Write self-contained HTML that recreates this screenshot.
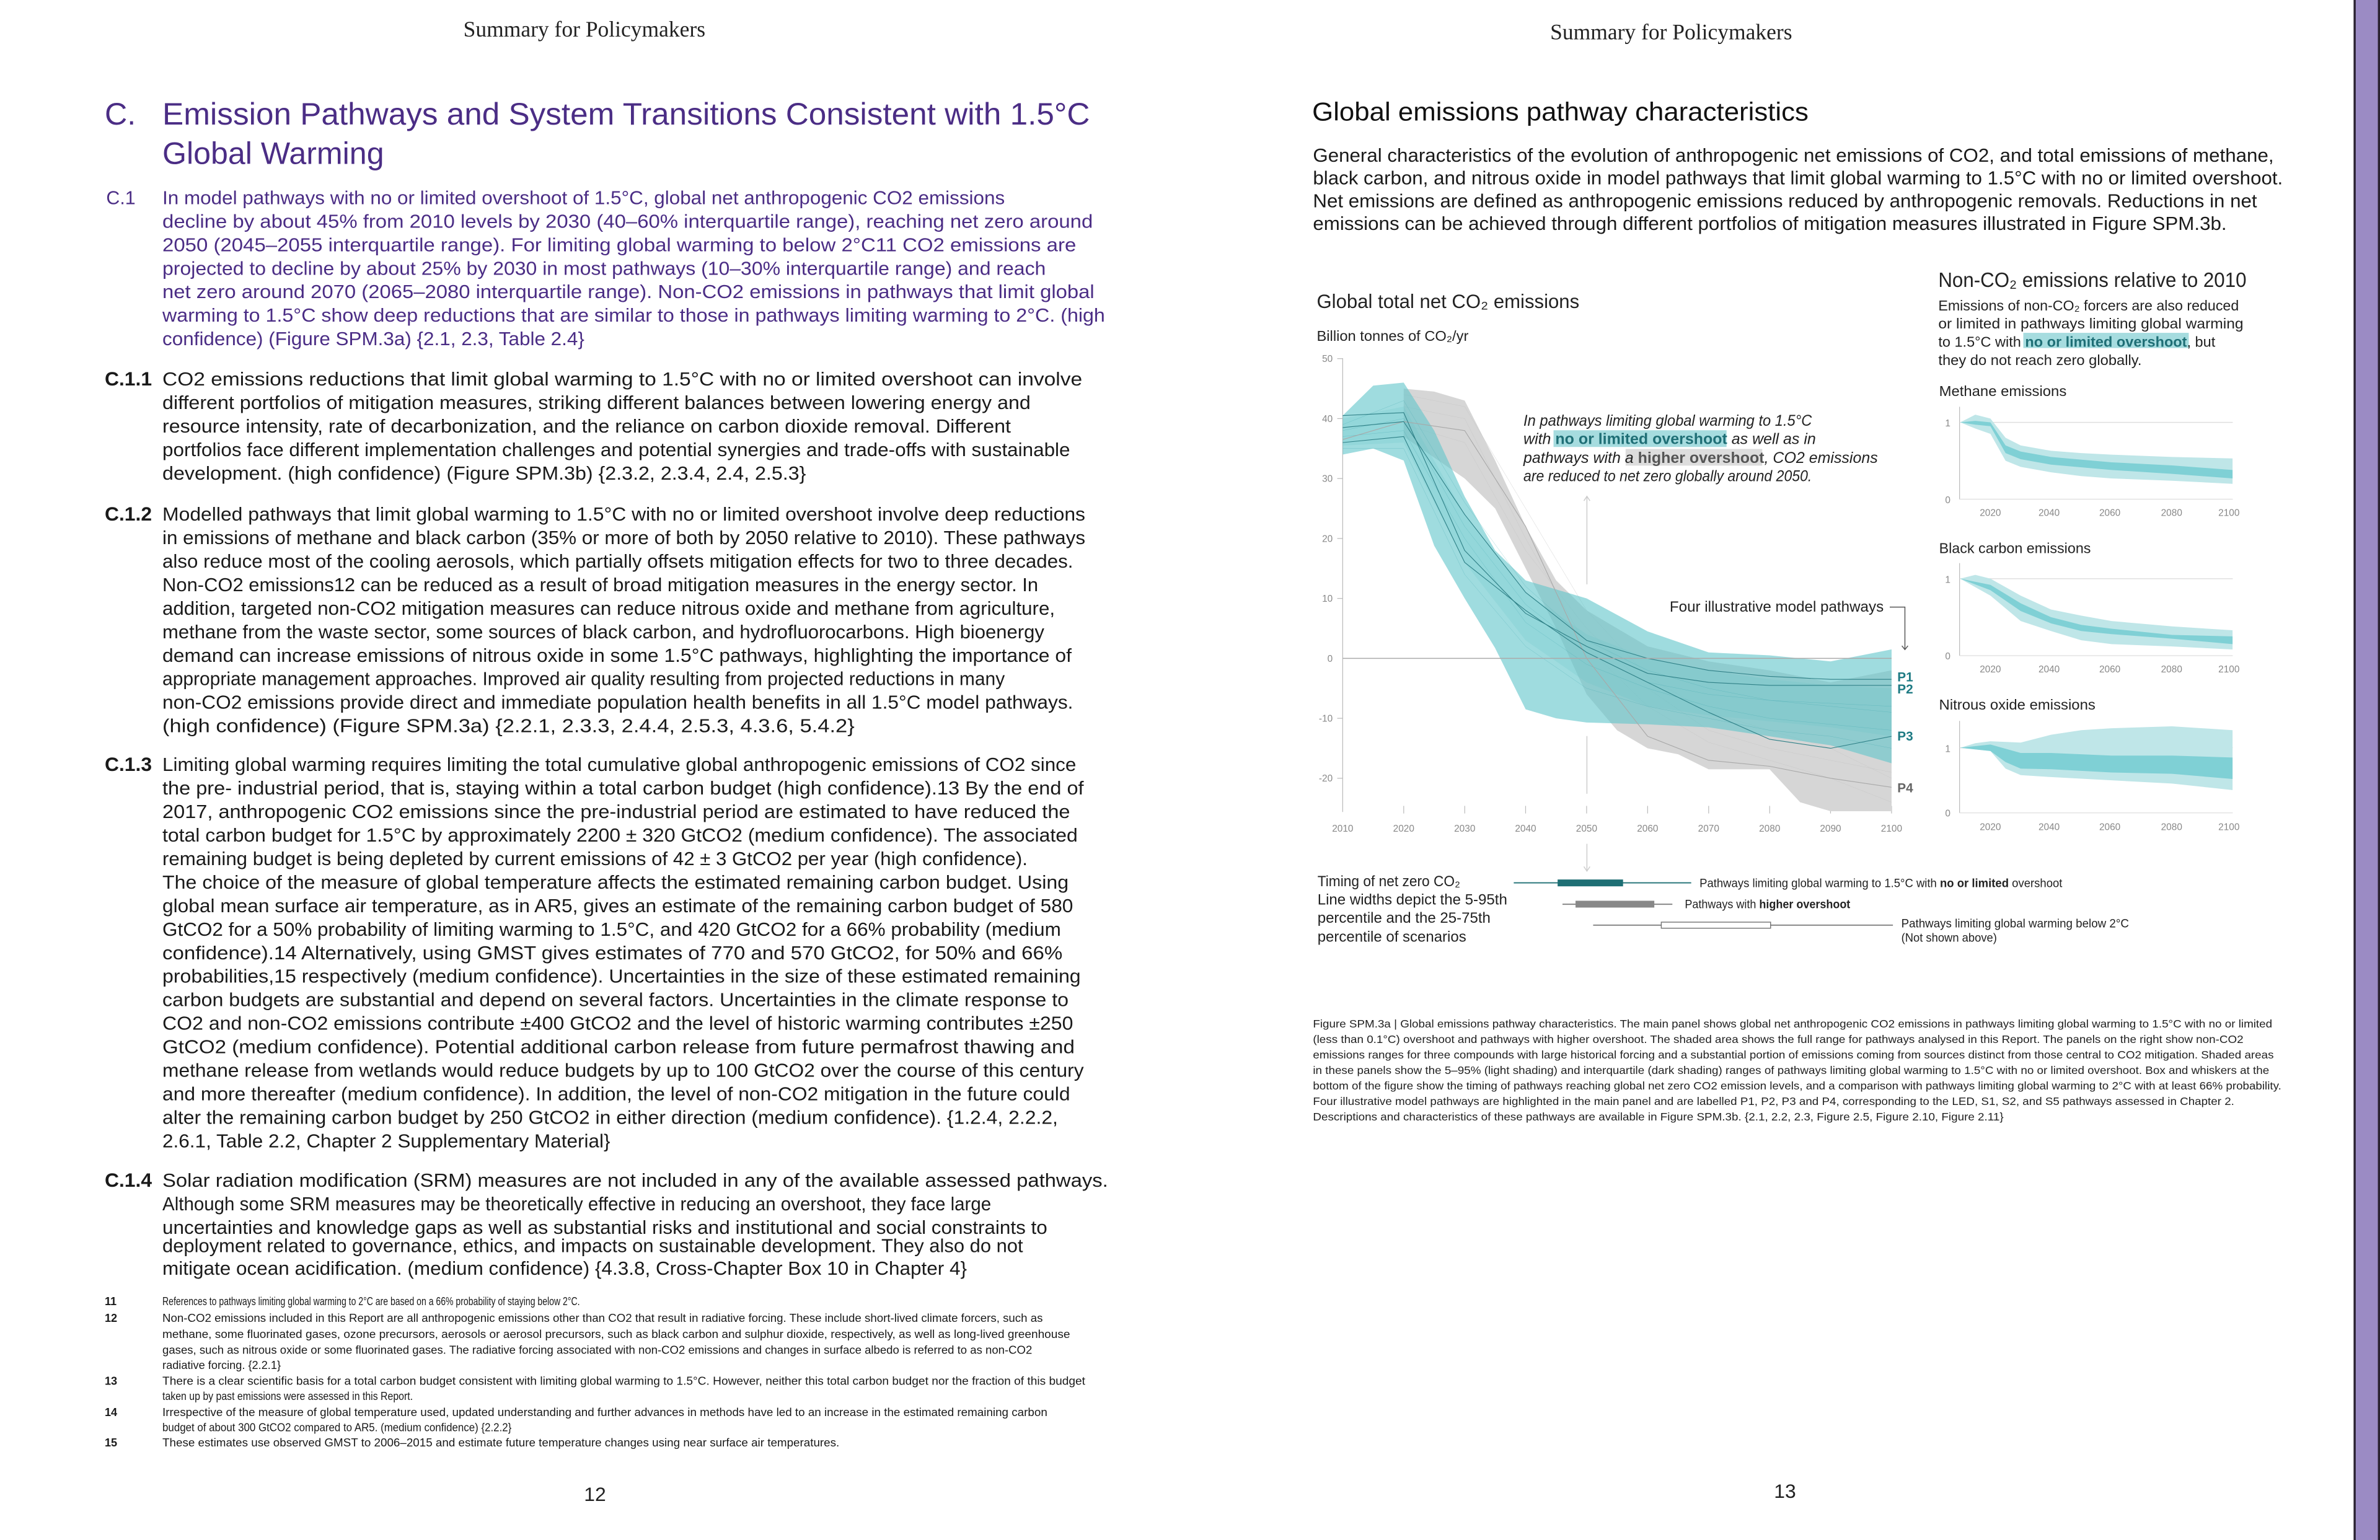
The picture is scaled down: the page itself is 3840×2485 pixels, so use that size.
<!DOCTYPE html>
<html><head><meta charset="utf-8"><style>
html,body{margin:0;padding:0;background:#fff;}
svg{display:block;}
.b{font-family:"Liberation Sans",sans-serif;font-size:12.4px;fill:#1a1a1a;}
.p{fill:#4b2d85;}
.f{font-family:"Liberation Sans",sans-serif;font-size:7.4px;fill:#1a1a1a;}
.c{font-family:"Liberation Sans",sans-serif;font-size:10px;fill:#222;}
.s{font-family:"Liberation Sans",sans-serif;fill:#222;}
.t{font-family:"Liberation Sans",sans-serif;font-size:6.3px;fill:#888;}
</style></head><body>
<svg width="3840" height="2485" viewBox="0 0 1568 1014.7" xmlns="http://www.w3.org/2000/svg">
<rect x="0" y="0" width="1568" height="1015" fill="#fff"/>
<rect x="1551.3" y="-1" width="16" height="1020" fill="#9b8bc4" stroke="#2a2230" stroke-width="1.4"/>

<text x="385" y="24" text-anchor="middle" font-family="Liberation Serif,serif" font-size="14.5" fill="#222">Summary for Policymakers</text>
<text x="1101" y="26" text-anchor="middle" font-family="Liberation Serif,serif" font-size="14.5" fill="#222">Summary for Policymakers</text>

<g font-family="Liberation Sans,sans-serif" fill="#4b2d85" font-size="20.5">
<text x="69" y="82">C.</text>
<text x="107" y="82" textLength="611" lengthAdjust="spacingAndGlyphs">Emission Pathways and System Transitions Consistent with 1.5°C</text>
<text x="107" y="108" textLength="146" lengthAdjust="spacingAndGlyphs">Global Warming</text>
</g>
<g class="b p">
<text x="70" y="134.5">C.1</text>
<text x="107" y="134.5" textLength="555" lengthAdjust="spacingAndGlyphs">In model pathways with no or limited overshoot of 1.5°C, global net anthropogenic CO2 emissions</text>
<text x="107" y="150" textLength="613" lengthAdjust="spacingAndGlyphs">decline by about 45% from 2010 levels by 2030 (40–60% interquartile range), reaching net zero around</text>
<text x="107" y="165.5" textLength="602" lengthAdjust="spacingAndGlyphs">2050 (2045–2055 interquartile range). For limiting global warming to below 2°C11 CO2 emissions are</text>
<text x="107" y="181" textLength="582" lengthAdjust="spacingAndGlyphs">projected to decline by about 25% by 2030 in most pathways (10–30% interquartile range) and reach</text>
<text x="107" y="196.5" textLength="614" lengthAdjust="spacingAndGlyphs">net zero around 2070 (2065–2080 interquartile range). Non-CO2 emissions in pathways that limit global</text>
<text x="107" y="212" textLength="621" lengthAdjust="spacingAndGlyphs">warming to 1.5°C show deep reductions that are similar to those in pathways limiting warming to 2°C. (high</text>
<text x="107" y="227.5" textLength="278" lengthAdjust="spacingAndGlyphs">confidence) (Figure SPM.3a) {2.1, 2.3, Table 2.4}</text>
</g>
<g class="b">
<text x="69" y="254" font-weight="bold" font-size="13">C.1.1</text>
<text x="107" y="254" textLength="606" lengthAdjust="spacingAndGlyphs">CO2 emissions reductions that limit global warming to 1.5°C with no or limited overshoot can involve</text>
<text x="107" y="269.5" textLength="572" lengthAdjust="spacingAndGlyphs">different portfolios of mitigation measures, striking different balances between lowering energy and</text>
<text x="107" y="285" textLength="559" lengthAdjust="spacingAndGlyphs">resource intensity, rate of decarbonization, and the reliance on carbon dioxide removal. Different</text>
<text x="107" y="300.5" textLength="598" lengthAdjust="spacingAndGlyphs">portfolios face different implementation challenges and potential synergies and trade-offs with sustainable</text>
<text x="107" y="316" textLength="424" lengthAdjust="spacingAndGlyphs">development. (high confidence) (Figure SPM.3b) {2.3.2, 2.3.4, 2.4, 2.5.3}</text>

<text x="69" y="343" font-weight="bold" font-size="13">C.1.2</text>
<text x="107" y="343" textLength="608" lengthAdjust="spacingAndGlyphs">Modelled pathways that limit global warming to 1.5°C with no or limited overshoot involve deep reductions</text>
<text x="107" y="358.5" textLength="608" lengthAdjust="spacingAndGlyphs">in emissions of methane and black carbon (35% or more of both by 2050 relative to 2010). These pathways</text>
<text x="107" y="374" textLength="600" lengthAdjust="spacingAndGlyphs">also reduce most of the cooling aerosols, which partially offsets mitigation effects for two to three decades.</text>
<text x="107" y="389.5" textLength="577" lengthAdjust="spacingAndGlyphs">Non-CO2 emissions12 can be reduced as a result of broad mitigation measures in the energy sector. In</text>
<text x="107" y="405" textLength="588" lengthAdjust="spacingAndGlyphs">addition, targeted non-CO2 mitigation measures can reduce nitrous oxide and methane from agriculture,</text>
<text x="107" y="420.5" textLength="581" lengthAdjust="spacingAndGlyphs">methane from the waste sector, some sources of black carbon, and hydrofluorocarbons. High bioenergy</text>
<text x="107" y="436" textLength="599" lengthAdjust="spacingAndGlyphs">demand can increase emissions of nitrous oxide in some 1.5°C pathways, highlighting the importance of</text>
<text x="107" y="451.5" textLength="555" lengthAdjust="spacingAndGlyphs">appropriate management approaches. Improved air quality resulting from projected reductions in many</text>
<text x="107" y="467" textLength="600" lengthAdjust="spacingAndGlyphs">non-CO2 emissions provide direct and immediate population health benefits in all 1.5°C model pathways.</text>
<text x="107" y="482.5" textLength="456" lengthAdjust="spacingAndGlyphs">(high confidence) (Figure SPM.3a) {2.2.1, 2.3.3, 2.4.4, 2.5.3, 4.3.6, 5.4.2}</text>

<text x="69" y="508" font-weight="bold" font-size="13">C.1.3</text>
<text x="107" y="508" textLength="602" lengthAdjust="spacingAndGlyphs">Limiting global warming requires limiting the total cumulative global anthropogenic emissions of CO2 since</text>
<text x="107" y="523.5" textLength="607" lengthAdjust="spacingAndGlyphs">the pre- industrial period, that is, staying within a total carbon budget (high confidence).13 By the end of</text>
<text x="107" y="539" textLength="598" lengthAdjust="spacingAndGlyphs">2017, anthropogenic CO2 emissions since the pre-industrial period are estimated to have reduced the</text>
<text x="107" y="554.5" textLength="603" lengthAdjust="spacingAndGlyphs">total carbon budget for 1.5°C by approximately 2200 ± 320 GtCO2 (medium confidence). The associated</text>
<text x="107" y="570" textLength="570" lengthAdjust="spacingAndGlyphs">remaining budget is being depleted by current emissions of 42 ± 3 GtCO2 per year (high confidence).</text>
<text x="107" y="585.5" textLength="597" lengthAdjust="spacingAndGlyphs">The choice of the measure of global temperature affects the estimated remaining carbon budget. Using</text>
<text x="107" y="601" textLength="600" lengthAdjust="spacingAndGlyphs">global mean surface air temperature, as in AR5, gives an estimate of the remaining carbon budget of 580</text>
<text x="107" y="616.5" textLength="592" lengthAdjust="spacingAndGlyphs">GtCO2 for a 50% probability of limiting warming to 1.5°C, and 420 GtCO2 for a 66% probability (medium</text>
<text x="107" y="632" textLength="593" lengthAdjust="spacingAndGlyphs">confidence).14 Alternatively, using GMST gives estimates of 770 and 570 GtCO2, for 50% and 66%</text>
<text x="107" y="647.5" textLength="605" lengthAdjust="spacingAndGlyphs">probabilities,15 respectively (medium confidence). Uncertainties in the size of these estimated remaining</text>
<text x="107" y="663" textLength="597" lengthAdjust="spacingAndGlyphs">carbon budgets are substantial and depend on several factors. Uncertainties in the climate response to</text>
<text x="107" y="678.5" textLength="600" lengthAdjust="spacingAndGlyphs">CO2 and non-CO2 emissions contribute ±400 GtCO2 and the level of historic warming contributes ±250</text>
<text x="107" y="694" textLength="601" lengthAdjust="spacingAndGlyphs">GtCO2 (medium confidence). Potential additional carbon release from future permafrost thawing and</text>
<text x="107" y="709.5" textLength="607" lengthAdjust="spacingAndGlyphs">methane release from wetlands would reduce budgets by up to 100 GtCO2 over the course of this century</text>
<text x="107" y="725" textLength="598" lengthAdjust="spacingAndGlyphs">and more thereafter (medium confidence). In addition, the level of non-CO2 mitigation in the future could</text>
<text x="107" y="740.5" textLength="590" lengthAdjust="spacingAndGlyphs">alter the remaining carbon budget by 250 GtCO2 in either direction (medium confidence). {1.2.4, 2.2.2,</text>
<text x="107" y="756" textLength="295" lengthAdjust="spacingAndGlyphs">2.6.1, Table 2.2, Chapter 2 Supplementary Material}</text>

<text x="69" y="782" font-weight="bold" font-size="13">C.1.4</text>
<text x="107" y="782" textLength="623" lengthAdjust="spacingAndGlyphs">Solar radiation modification (SRM) measures are not included in any of the available assessed pathways.</text>
<text x="107" y="797.5" textLength="546" lengthAdjust="spacingAndGlyphs">Although some SRM measures may be theoretically effective in reducing an overshoot, they face large</text>
<text x="107" y="813" textLength="583" lengthAdjust="spacingAndGlyphs">uncertainties and knowledge gaps as well as substantial risks and institutional and social constraints to</text>
<text x="107" y="825" textLength="567" lengthAdjust="spacingAndGlyphs">deployment related to governance, ethics, and impacts on sustainable development. They also do not</text>
<text x="107" y="840" textLength="530" lengthAdjust="spacingAndGlyphs">mitigate ocean acidification. (medium confidence) {4.3.8, Cross-Chapter Box 10 in Chapter 4}</text>
</g>

<g class="f">
<g font-weight="bold"><text x="69" y="860">11</text><text x="69" y="871">12</text><text x="69" y="912.5">13</text><text x="69" y="933">14</text><text x="69" y="953">15</text></g>
<text x="107" y="860" textLength="275" lengthAdjust="spacingAndGlyphs">References to pathways limiting global warming to 2°C are based on a 66% probability of staying below 2°C.</text>
<text x="107" y="871" textLength="580" lengthAdjust="spacingAndGlyphs">Non-CO2 emissions included in this Report are all anthropogenic emissions other than CO2 that result in radiative forcing. These include short-lived climate forcers, such as</text>
<text x="107" y="881.5" textLength="598" lengthAdjust="spacingAndGlyphs">methane, some fluorinated gases, ozone precursors, aerosols or aerosol precursors, such as black carbon and sulphur dioxide, respectively, as well as long-lived greenhouse</text>
<text x="107" y="892" textLength="573" lengthAdjust="spacingAndGlyphs">gases, such as nitrous oxide or some fluorinated gases. The radiative forcing associated with non-CO2 emissions and changes in surface albedo is referred to as non-CO2</text>
<text x="107" y="902" textLength="78" lengthAdjust="spacingAndGlyphs">radiative forcing. {2.2.1}</text>
<text x="107" y="912.5" textLength="608" lengthAdjust="spacingAndGlyphs">There is a clear scientific basis for a total carbon budget consistent with limiting global warming to 1.5°C. However, neither this total carbon budget nor the fraction of this budget</text>
<text x="107" y="922.5" textLength="165" lengthAdjust="spacingAndGlyphs">taken up by past emissions were assessed in this Report.</text>
<text x="107" y="933" textLength="583" lengthAdjust="spacingAndGlyphs">Irrespective of the measure of global temperature used, updated understanding and further advances in methods have led to an increase in the estimated remaining carbon</text>
<text x="107" y="943" textLength="230" lengthAdjust="spacingAndGlyphs">budget of about 300 GtCO2 compared to AR5. (medium confidence) {2.2.2}</text>
<text x="107" y="953" textLength="446" lengthAdjust="spacingAndGlyphs">These estimates use observed GMST to 2006–2015 and estimate future temperature changes using near surface air temperatures.</text>
</g>
<text x="392" y="989" text-anchor="middle" font-family="Liberation Sans,sans-serif" font-size="13" fill="#222">12</text>
<text x="1176" y="987" text-anchor="middle" font-family="Liberation Sans,sans-serif" font-size="13" fill="#222">13</text>

<text x="864.5" y="79.5" font-family="Liberation Sans,sans-serif" font-size="17" fill="#111" textLength="327" lengthAdjust="spacingAndGlyphs">Global emissions pathway characteristics</text>
<g class="b" fill="#222">
<text x="865" y="106.5" textLength="633" lengthAdjust="spacingAndGlyphs">General characteristics of the evolution of anthropogenic net emissions of CO2, and total emissions of methane,</text>
<text x="865" y="121.5" textLength="639" lengthAdjust="spacingAndGlyphs">black carbon, and nitrous oxide in model pathways that limit global warming to 1.5°C with no or limited overshoot.</text>
<text x="865" y="136.5" textLength="622" lengthAdjust="spacingAndGlyphs">Net emissions are defined as anthropogenic emissions reduced by anthropogenic removals. Reductions in net</text>
<text x="865" y="151.5" textLength="602" lengthAdjust="spacingAndGlyphs">emissions can be achieved through different portfolios of mitigation measures illustrated in Figure SPM.3b.</text>
</g>

<text x="867.5" y="203" class="s" font-size="13" textLength="173" lengthAdjust="spacingAndGlyphs">Global total net CO₂ emissions</text>
<text x="867.5" y="224.5" class="s" font-size="9.6" textLength="100" lengthAdjust="spacingAndGlyphs">Billion tonnes of CO₂/yr</text>

<g class="t" text-anchor="end">
<text x="878" y="238.5">50</text><text x="878" y="278">40</text><text x="878" y="317.5">30</text><text x="878" y="357">20</text><text x="878" y="396.5">10</text><text x="878" y="436">0</text><text x="878" y="475.5">-10</text><text x="878" y="515">-20</text>
</g>
<g class="t" text-anchor="middle">
<text x="884.6" y="548">2010</text><text x="924.8" y="548">2020</text><text x="965" y="548">2030</text><text x="1005.1" y="548">2040</text><text x="1045.3" y="548">2050</text><text x="1085.5" y="548">2060</text><text x="1125.7" y="548">2070</text><text x="1165.9" y="548">2080</text><text x="1206" y="548">2090</text><text x="1246.2" y="548">2100</text>
</g>
<line x1="884.6" y1="236" x2="884.6" y2="535" stroke="#bbb" stroke-width="0.5"/>
<g stroke="#bbb" stroke-width="0.5">
<line x1="881" y1="236.3" x2="884.6" y2="236.3"/><line x1="881" y1="275.8" x2="884.6" y2="275.8"/><line x1="881" y1="315.3" x2="884.6" y2="315.3"/><line x1="881" y1="354.8" x2="884.6" y2="354.8"/><line x1="881" y1="394.3" x2="884.6" y2="394.3"/><line x1="881" y1="473.3" x2="884.6" y2="473.3"/><line x1="881" y1="512.8" x2="884.6" y2="512.8"/>
<line x1="924.8" y1="531" x2="924.8" y2="536"/><line x1="965" y1="531" x2="965" y2="536"/><line x1="1005.1" y1="531" x2="1005.1" y2="536"/><line x1="1045.3" y1="531" x2="1045.3" y2="536"/><line x1="1085.5" y1="531" x2="1085.5" y2="536"/><line x1="1125.7" y1="531" x2="1125.7" y2="536"/><line x1="1165.9" y1="531" x2="1165.9" y2="536"/><line x1="1206" y1="531" x2="1206" y2="536"/><line x1="1246.2" y1="531" x2="1246.2" y2="536"/>
</g>

<g transform="translate(884.6,433.8) scale(4.018,-3.95)">
<path d="M10,45 L15,44.5 L20,43 L25,33 L30,22 L35,13 L40,8 L50,2 L60,-0.5 L70,-2 L80,-4 L90,-2 L90,-25.5 L80,-25.5 L75,-24 L70,-18.5 L60,-18.5 L55,-16 L50,-15 L45,-12 L40,-6 L35,5 L30,15 L25,25 L20,30 L10,37 Z" fill="#d6d6d6"/>
<g fill="none" stroke="#c4c4c4" stroke-width="0.4">
<path d="M10,42 L20,40 L30,20 L40,2 L50,-8 L60,-14 L70,-17 L80,-20 L90,-24" vector-effect="non-scaling-stroke"/>
<path d="M10,44 L20,42 L30,25 L40,8 L50,-3 L60,-9 L70,-12 L80,-15 L90,-20" vector-effect="non-scaling-stroke"/>
<path d="M10,39 L20,36 L30,18 L40,5 L50,-5 L60,-12 L70,-15 L80,-17 L90,-19" vector-effect="non-scaling-stroke"/>
</g>
<path d="M0,40.5 L5,45.5 L10,46 L15,38 L20,27 L25,18 L30,13 L40,10 L50,4.5 L60,1 L70,0.5 L80,-0.5 L90,1.5 L90,-17.5 L80,-14.5 L70,-13 L60,-11.5 L50,-11 L40,-10.7 L35,-10 L30,-8.5 L25,1.7 L20,10 L15,18.8 L10,33 L5,35 L0,34 Z" fill="#5fc4c9" opacity="0.6"/>
<path d="M0,40 L10,42 L20,24 L30,11 L40,4 L50,0 L60,-2 L70,-3.5 L80,-4.5 L90,-5 L90,-13 L80,-11.5 L70,-10.5 L60,-9.5 L50,-8 L40,-4 L30,3 L20,16 L10,36 L0,35.5 Z" fill="#5fc4c9" opacity="0.18"/>
<g fill="none" stroke="#3fa6ad" stroke-width="0.4" opacity="0.6">
<path d="M0,37 L10,38 L20,20 L30,6 L40,-1 L50,-5 L60,-8 L70,-10 L80,-11 L90,-12" vector-effect="non-scaling-stroke"/>
<path d="M0,39 L10,43 L20,26 L30,12 L40,3 L50,-2 L60,-5 L70,-7 L80,-8 L90,-9" vector-effect="non-scaling-stroke"/>
<path d="M0,35 L10,35 L20,14 L30,2 L40,-5 L50,-8 L60,-10 L70,-12 L80,-13 L90,-15" vector-effect="non-scaling-stroke"/>
<path d="M0,38 L10,40 L20,22 L30,9 L40,1 L50,-4 L60,-6 L70,-7 L80,-7.5 L90,-8" vector-effect="non-scaling-stroke"/>
</g>
<g fill="none" stroke-width="1.1" stroke-linejoin="round">
<path d="M0,36.5 L10,39.5 L20,38 L30,22 L40,0 L50,-13 L60,-17 L70,-18 L80,-20 L90,-21.5" stroke="#a8a8a8" vector-effect="non-scaling-stroke"/>
<path d="M0,38.5 L10,39.5 L20,24 L30,11 L40,3 L50,0 L60,-2 L70,-3 L80,-3.5 L90,-3.5" stroke="#2f8087" vector-effect="non-scaling-stroke"/>
<path d="M0,40.5 L10,41 L20,18 L30,7.5 L40,2 L50,-2.5 L60,-4 L70,-4.5 L80,-4.5 L90,-4.5" stroke="#2f8087" vector-effect="non-scaling-stroke"/>
<path d="M0,36 L10,37 L20,16 L30,8 L40,1 L50,-4 L60,-9 L70,-13.5 L80,-15 L90,-13" stroke="#2f8087" vector-effect="non-scaling-stroke"/>
</g>
</g>
<line x1="884.6" y1="433.8" x2="1246.2" y2="433.8" stroke="#aaa" stroke-width="0.6"/>
<g stroke="#ccc" stroke-width="0.6" fill="none">
<line x1="1045.5" y1="327" x2="1045.5" y2="385"/><line x1="1045.5" y1="485" x2="1045.5" y2="523"/><line x1="1045.5" y1="556" x2="1045.5" y2="574"/>
<path d="M1043.5,330 L1045.5,327 L1047.5,330"/><path d="M1043.5,571 L1045.5,574 L1047.5,571"/>
</g>
<g class="s" font-size="8.5" font-weight="bold">
<text x="1250" y="449" fill="#1f7b84">P1</text>
<text x="1250" y="457" fill="#1f7b84">P2</text>
<text x="1250" y="488" fill="#1f7b84">P3</text>
<text x="1250" y="522" fill="#666">P4</text>
</g>
<g class="s" font-size="10.2" font-style="italic" fill="#222">
<text x="1003.7" y="280.5" textLength="190" lengthAdjust="spacingAndGlyphs">In pathways limiting global warming to 1.5°C</text>
<rect x="1023.5" y="283.5" width="114" height="11" fill="#a6dcdf"/>
<rect x="1071" y="295.8" width="90" height="11" fill="#ddd"/>
<text x="1003.7" y="292.5">with <tspan font-style="normal" font-weight="bold" fill="#1f6f76">no or limited overshoot</tspan> as well as in</text>
<text x="1003.7" y="305">pathways with a <tspan font-style="normal" font-weight="bold" fill="#555">higher overshoot</tspan>, CO2 emissions</text>
<text x="1003.7" y="317" textLength="190" lengthAdjust="spacingAndGlyphs">are reduced to net zero globally around 2050.</text>
</g>
<text x="1241" y="403" text-anchor="end" class="s" font-size="10" textLength="141" lengthAdjust="spacingAndGlyphs">Four illustrative model pathways</text>
<path d="M1245,400 L1255,400 L1255,428 M1253,425.5 L1255,428 L1257,425.5" stroke="#555" stroke-width="0.6" fill="none"/>

<g class="s" font-size="10" fill="#111">
<text x="868" y="584" textLength="94" lengthAdjust="spacingAndGlyphs">Timing of net zero CO₂</text>
<text x="868" y="596" textLength="125" lengthAdjust="spacingAndGlyphs">Line widths depict the 5-95th</text>
<text x="868" y="608" textLength="114" lengthAdjust="spacingAndGlyphs">percentile and the 25-75th</text>
<text x="868" y="620.5" textLength="98" lengthAdjust="spacingAndGlyphs">percentile of scenarios</text>
</g>
<line x1="997.3" y1="581.7" x2="1114.2" y2="581.7" stroke="#1e6f74" stroke-width="0.8"/>
<rect x="1026.2" y="579.5" width="43.1" height="4.5" fill="#1e6f74"/>
<text x="1119.7" y="584.5" class="s" font-size="7.8" fill="#1e7f86" textLength="239" lengthAdjust="spacingAndGlyphs">Pathways limiting global warming to 1.5°C with <tspan font-weight="bold">no or limited</tspan> overshoot</text>
<line x1="1029.4" y1="595.8" x2="1101.8" y2="595.8" stroke="#888" stroke-width="0.8"/>
<rect x="1038" y="593.5" width="51.9" height="4.5" fill="#888"/>
<text x="1110" y="598.5" class="s" font-size="7.8" fill="#111" textLength="109" lengthAdjust="spacingAndGlyphs">Pathways with <tspan font-weight="bold">higher overshoot</tspan></text>
<line x1="1049.6" y1="609.6" x2="1247.1" y2="609.6" stroke="#888" stroke-width="0.8"/>
<rect x="1094.5" y="607.6" width="72" height="4" fill="#fff" stroke="#777" stroke-width="0.6"/>
<text x="1252.6" y="611" class="s" font-size="7.8" fill="#111" textLength="150" lengthAdjust="spacingAndGlyphs">Pathways limiting global warming below 2°C</text>
<text x="1252.6" y="620.5" class="s" font-size="7.8" fill="#111" textLength="63" lengthAdjust="spacingAndGlyphs">(Not shown above)</text>

<text x="1277" y="189" class="s" font-size="13.5" fill="#111" textLength="203" lengthAdjust="spacingAndGlyphs">Non-CO₂ emissions relative to 2010</text>
<g class="s" font-size="9.6" fill="#111">
<text x="1277" y="204.5" textLength="198" lengthAdjust="spacingAndGlyphs">Emissions of non-CO₂ forcers are also reduced</text>
<text x="1277" y="216.5" textLength="201" lengthAdjust="spacingAndGlyphs">or limited in pathways limiting global warming</text>
<rect x="1333" y="219.3" width="109" height="10" fill="#a6dcdf"/>
<text x="1277" y="228.5">to 1.5°C with <tspan font-weight="bold" fill="#1f6f76">no or limited overshoot</tspan>, but</text>
<text x="1277" y="240.5" textLength="134" lengthAdjust="spacingAndGlyphs">they do not reach zero globally.</text>
<text x="1277.5" y="261" textLength="84" lengthAdjust="spacingAndGlyphs">Methane emissions</text>
<text x="1277.5" y="364.5" textLength="100" lengthAdjust="spacingAndGlyphs">Black carbon emissions</text>
<text x="1277.5" y="467.5" textLength="103" lengthAdjust="spacingAndGlyphs">Nitrous oxide emissions</text>
</g>

<g>
<line x1="1291" y1="268" x2="1291" y2="329" stroke="#bbb" stroke-width="0.5"/>
<line x1="1291" y1="328.9" x2="1471" y2="328.9" stroke="#ddd" stroke-width="0.5"/>
<line x1="1291" y1="278.3" x2="1471" y2="278.3" stroke="#ddd" stroke-width="0.6"/>
<g transform="translate(1291.4,328.9) scale(1.994,-50.6)">
<path d="M0,1 L5,1.1 L10,1.05 L15,0.8 L20,0.7 L30,0.63 L40,0.6 L50,0.58 L70,0.55 L90,0.53 L90,0.2 L70,0.24 L50,0.27 L40,0.3 L30,0.35 L20,0.42 L15,0.5 L10,0.85 L5,0.92 Z" fill="#bfe6e8"/>
<path d="M0,1 L5,1.02 L10,1.0 L15,0.7 L20,0.62 L30,0.55 L50,0.48 L70,0.44 L90,0.38 L90,0.27 L70,0.33 L50,0.38 L30,0.45 L20,0.52 L15,0.6 L10,0.95 L5,0.97 Z" fill="#7fd0d5"/>
</g>
</g>
<g>
<line x1="1291" y1="371" x2="1291" y2="432" stroke="#bbb" stroke-width="0.5"/>
<line x1="1291" y1="432" x2="1471" y2="432" stroke="#ddd" stroke-width="0.5"/>
<line x1="1291" y1="381.3" x2="1471" y2="381.3" stroke="#ddd" stroke-width="0.6"/>
<g transform="translate(1291.4,432) scale(1.994,-50.7)">
<path d="M0,1 L5,1.05 L10,1.0 L20,0.78 L30,0.6 L40,0.52 L50,0.45 L70,0.38 L90,0.33 L90,0.08 L70,0.12 L50,0.15 L40,0.2 L30,0.32 L20,0.45 L10,0.78 Z" fill="#bfe6e8"/>
<path d="M0,1 L10,0.92 L20,0.68 L30,0.5 L40,0.4 L50,0.35 L70,0.27 L90,0.25 L90,0.15 L70,0.22 L50,0.28 L40,0.32 L30,0.42 L20,0.58 L10,0.85 Z" fill="#7fd0d5"/>
</g>
</g>
<g>
<line x1="1291" y1="475" x2="1291" y2="535.6" stroke="#bbb" stroke-width="0.5"/>
<line x1="1291" y1="535.6" x2="1471" y2="535.6" stroke="#ddd" stroke-width="0.5"/>
<line x1="1291" y1="492.7" x2="1471" y2="492.7" stroke="#ddd" stroke-width="0.6"/>
<g transform="translate(1291.4,535.6) scale(1.994,-42.9)">
<path d="M0,1 L5,1.07 L10,1.1 L20,1.08 L30,1.2 L40,1.27 L50,1.3 L70,1.33 L90,1.27 L90,0.35 L70,0.45 L50,0.5 L30,0.55 L20,0.58 L15,0.68 L10,0.95 Z" fill="#bfe6e8"/>
<path d="M0,1 L10,1.05 L20,0.92 L30,0.92 L50,0.88 L70,0.88 L90,0.85 L90,0.52 L70,0.6 L50,0.62 L30,0.67 L20,0.68 L15,0.78 L10,0.95 Z" fill="#7fd0d5"/>
</g>
</g>
<g class="t" text-anchor="end">
<text x="1285" y="281">1</text><text x="1285" y="331.5">0</text>
<text x="1285" y="384">1</text><text x="1285" y="434.5">0</text>
<text x="1285" y="495.5">1</text><text x="1285" y="538">0</text>
</g>
<g class="t" text-anchor="middle">
<text x="1311.3" y="340">2020</text><text x="1350" y="340">2040</text><text x="1390" y="340">2060</text><text x="1430.7" y="340">2080</text><text x="1468.5" y="340">2100</text>
<text x="1311.3" y="443">2020</text><text x="1350" y="443">2040</text><text x="1390" y="443">2060</text><text x="1430.7" y="443">2080</text><text x="1468.5" y="443">2100</text>
<text x="1311.3" y="547">2020</text><text x="1350" y="547">2040</text><text x="1390" y="547">2060</text><text x="1430.7" y="547">2080</text><text x="1468.5" y="547">2100</text>
</g>

<g font-family="Liberation Sans,sans-serif" font-size="7.2" fill="#222">
<text x="865" y="677" textLength="632" lengthAdjust="spacingAndGlyphs">Figure SPM.3a | Global emissions pathway characteristics. The main panel shows global net anthropogenic CO2 emissions in pathways limiting global warming to 1.5°C with no or limited</text>
<text x="865" y="687.2" textLength="613" lengthAdjust="spacingAndGlyphs">(less than 0.1°C) overshoot and pathways with higher overshoot. The shaded area shows the full range for pathways analysed in this Report. The panels on the right show non-CO2</text>
<text x="865" y="697.4" textLength="633" lengthAdjust="spacingAndGlyphs">emissions ranges for three compounds with large historical forcing and a substantial portion of emissions coming from sources distinct from those central to CO2 mitigation. Shaded areas</text>
<text x="865" y="707.6" textLength="630" lengthAdjust="spacingAndGlyphs">in these panels show the 5–95% (light shading) and interquartile (dark shading) ranges of pathways limiting global warming to 1.5°C with no or limited overshoot. Box and whiskers at the</text>
<text x="865" y="717.8" textLength="638" lengthAdjust="spacingAndGlyphs">bottom of the figure show the timing of pathways reaching global net zero CO2 emission levels, and a comparison with pathways limiting global warming to 2°C with at least 66% probability.</text>
<text x="865" y="728" textLength="607" lengthAdjust="spacingAndGlyphs">Four illustrative model pathways are highlighted in the main panel and are labelled P1, P2, P3 and P4, corresponding to the LED, S1, S2, and S5 pathways assessed in Chapter 2.</text>
<text x="865" y="738.2" textLength="455" lengthAdjust="spacingAndGlyphs">Descriptions and characteristics of these pathways are available in Figure SPM.3b. {2.1, 2.2, 2.3, Figure 2.5, Figure 2.10, Figure 2.11}</text>
</g>
</svg>
</body></html>
